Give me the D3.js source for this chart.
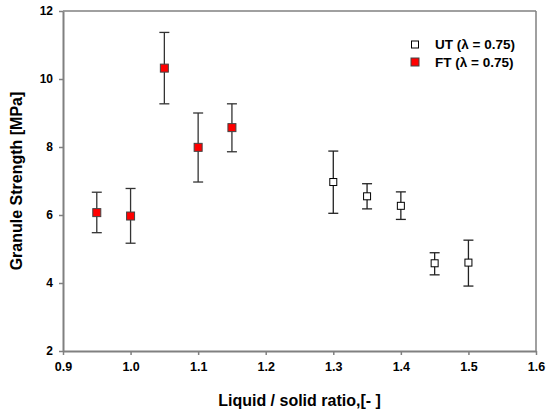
<!DOCTYPE html>
<html><head><meta charset="utf-8">
<script src="https://cdn.jsdelivr.net/npm/d3@7"></script>
<style>body{margin:0;background:#fff}svg{display:block}text{font-family:"Liberation Sans",Arial,sans-serif;font-weight:bold}</style>
</head><body>
<svg id="c" width="550" height="414"></svg>
<script>
const utX = [1.30, 1.35, 1.40, 1.45, 1.50];
const utY = [6.97, 6.55, 6.27, 4.58, 4.60];
const utLo = [6.05, 6.18, 5.87, 4.24, 3.91];
const utHi = [7.88, 6.92, 6.68, 4.89, 5.26];
const ftX = [0.95, 1.00, 1.05, 1.10, 1.15];
const ftY = [6.07, 5.97, 10.32, 7.99, 8.57];
const ftLo = [5.48, 5.17, 9.27, 6.97, 7.86];
const ftHi = [6.67, 6.78, 11.37, 9.00, 9.27];
const xTicks = [0.9, 1.0, 1.1, 1.2, 1.3, 1.4, 1.5, 1.6];
const yTicks = [2, 4, 6, 8, 10, 12];
const legendLabels = ["UT (\u03bb = 0.75)", "FT (\u03bb = 0.75)"];

const svg = d3.select("#c");
const L = 63, R = 536, T = 11, B = 351;
const x = d3.scaleLinear().domain([0.9, 1.6]).range([L, R]);
const y = d3.scaleLinear().domain([2, 12]).range([B, T]);
const axisCol = "#808080";

// frame top/right
svg.append("line").attr("x1", L).attr("x2", R).attr("y1", T).attr("y2", T).attr("stroke", axisCol).attr("stroke-width", 1.5);
svg.append("line").attr("x1", R).attr("x2", R).attr("y1", T).attr("y2", B).attr("stroke", axisCol).attr("stroke-width", 1.5);

const xa = svg.append("g").attr("transform", `translate(0,${B})`)
  .call(d3.axisBottom(x).tickValues(xTicks).tickFormat(d3.format(".1f")).tickSize(4).tickSizeOuter(0));
const ya = svg.append("g").attr("transform", `translate(${L},0)`)
  .call(d3.axisLeft(y).tickValues(yTicks).tickFormat(d3.format("d")).tickSize(4).tickSizeOuter(0));
[xa, ya].forEach(g => {
  g.select(".domain").attr("stroke", axisCol).attr("stroke-width", 2);
  g.selectAll(".tick line").attr("stroke", axisCol).attr("stroke-width", 1.5);
  g.selectAll(".tick text").attr("fill", "#000").style("font-weight", "bold").style("font-family", "Liberation Sans, Arial, sans-serif");
});
xa.selectAll(".tick text").style("font-size", "12.5px").attr("dy", "1.05em").attr("y", 7);
ya.selectAll(".tick text").style("font-size", "12px").attr("x", -10);

// error bars
function errBars(xs, ys, lo, hi, col) {
  const g = svg.append("g");
  xs.forEach((xv, i) => {
    const cx = x(xv);
    g.append("line").attr("x1", cx).attr("x2", cx).attr("y1", y(lo[i])).attr("y2", y(hi[i])).attr("stroke", col).attr("stroke-width", 1.3);
    [lo[i], hi[i]].forEach(v => g.append("line").attr("x1", cx - 5).attr("x2", cx + 5).attr("y1", y(v)).attr("y2", y(v)).attr("stroke", col).attr("stroke-width", 1.3));
  });
}
errBars(ftX, ftY, ftLo, ftHi, "#333");
errBars(utX, utY, utLo, utHi, "#222");

// markers
svg.append("g").selectAll("rect").data(ftX).join("rect")
  .attr("x", d => x(d) - 4).attr("y", (d, i) => y(ftY[i]) - 4).attr("width", 8).attr("height", 8)
  .attr("fill", "#ff0000").attr("stroke", "#444").attr("stroke-width", 1);
svg.append("g").selectAll("rect").data(utX).join("rect")
  .attr("x", d => x(d) - 3.5).attr("y", (d, i) => y(utY[i]) - 3.5).attr("width", 7).attr("height", 7)
  .attr("fill", "#fff").attr("stroke", "#000").attr("stroke-width", 1);

// legend
const lg = svg.append("g");
const lgY = [44.5, 62];
lg.append("rect").attr("x", 411.5).attr("y", lgY[0] - 3.5).attr("width", 7).attr("height", 7).attr("fill", "#fff").attr("stroke", "#000");
lg.append("rect").attr("x", 411).attr("y", lgY[1] - 4).attr("width", 8).attr("height", 8).attr("fill", "#ff0000").attr("stroke", "#444");
legendLabels.forEach((t, i) => lg.append("text").attr("x", 435).attr("y", lgY[i] + 4.5).style("font-size", "13.5px").text(t));

// axis titles
svg.append("text").attr("x", (L + R) / 2).attr("y", 406).attr("text-anchor", "middle").style("font-size", "16px").text("Liquid / solid ratio,[- ]");
svg.append("text").attr("transform", `translate(22,${(T + B) / 2}) rotate(-90)`).attr("text-anchor", "middle").style("font-size", "16px").text("Granule Strength [MPa]");
</script>
</body></html>
